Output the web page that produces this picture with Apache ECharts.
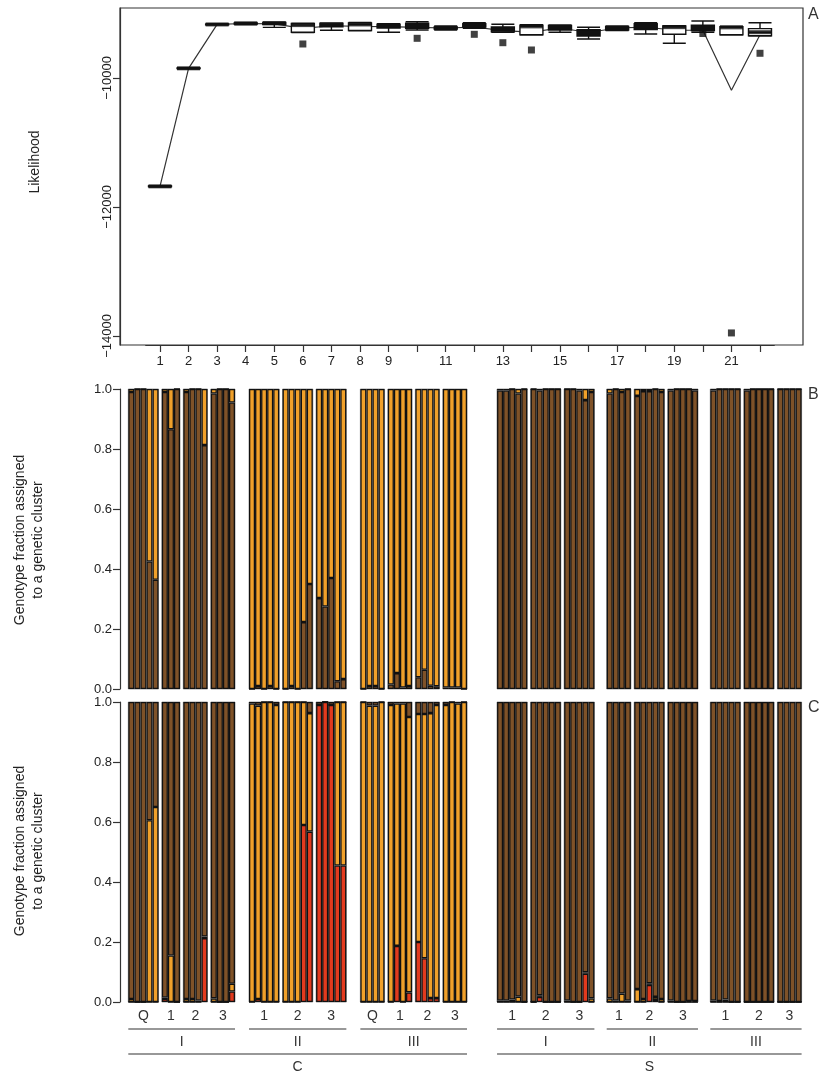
<!DOCTYPE html>
<html><head><meta charset="utf-8">
<script src="https://cdn.jsdelivr.net/npm/echarts@6/dist/echarts.min.js"></script>
<style>html,body{margin:0;padding:0;background:#fff}#c{width:820px;height:1074px}</style>
</head><body><div id="c"></div>
<script>
// ---------- Panel A data ----------
const kLabels = ['1','2','3','4','5','6','7','8','9','10','11','12','13','14','15','16','17','18','19','20','21','22'];
const kShown = ['1','2','3','4','5','6','7','8','9','11','13','15','17','19','21'];
const yTicksA = [-14000, -12000, -10000];
// [min, Q1, median, Q3, max]
const boxStats = [
  [-11690,-11685,-11680,-11675,-11670],
  [-9860,-9855,-9850,-9845,-9840],
  [-9180,-9175,-9170,-9165,-9160],
  [-9170,-9165,-9155,-9145,-9140],
  [-9215,-9170,-9150,-9140,-9135],
  [-9295,-9290,-9180,-9155,-9150],
  [-9260,-9205,-9175,-9150,-9145],
  [-9270,-9265,-9170,-9145,-9140],
  [-9292,-9225,-9190,-9165,-9160],
  [-9256,-9230,-9190,-9152,-9127],
  [-9255,-9240,-9225,-9210,-9195],
  [-9230,-9210,-9180,-9160,-9143],
  [-9292,-9285,-9240,-9210,-9168],
  [-9335,-9330,-9200,-9180,-9175],
  [-9290,-9255,-9215,-9185,-9178],
  [-9395,-9350,-9295,-9250,-9214],
  [-9266,-9255,-9225,-9200,-9194],
  [-9318,-9250,-9195,-9160,-9142],
  [-9462,-9322,-9212,-9195,-9190],
  [-9290,-9265,-9225,-9180,-9116],
  [-9333,-9330,-9215,-9205,-9200],
  [-9350,-9345,-9290,-9235,-9143]
];
const meanLik = [-11680,-9850,-9170,-9155,-9160,-9230,-9190,-9200,-9205,-9215,-9225,-9210,-9265,-9290,-9225,-9295,-9225,-9210,-9260,-9260,-10190,-9330];
const outliers = [[6,-9473],[10,-9385],[12,-9323],[13,-9453],[14,-9566],[20,-9310],[21,-13953],[22,-9617]];

// ---------- Panels B / C data ----------
const blockLabels = ['Q','1','2','3','1','2','3','Q','1','2','3','1','2','3','1','2','3','1','2','3'];
const blockGroup  = [0,0,0,0,1,1,1,2,2,2,2,3,3,3,4,4,4,5,5,5];
const groupLabels = ['I','II','III','I','II','III'];
const groupSite   = [0,0,0,1,1,1];
const siteLabels  = ['C','S'];

// K=2: brown fraction (orange = rest)
const brownK2 = [
  [0.99,1,1,0.425,0.364],
  [0.99,0.866,1],
  [0.99,1,1,0.813],
  [0.985,1,1,0.955],
  [0,0.01,0,0.01,0],
  [0,0.01,0,0.223,0.35],
  [0.303,0.275,0.37,0.026,0.033],
  [0,0.01,0.01,0],
  [0.015,0.053,0.005,0.01],
  [0.039,0.064,0.011,0.009],
  [0.005,0.005,0.005,0],
  [0.995,0.995,1,0.985,1],
  [1,0.995,1,1,1],
  [1,1,0.995,0.963,0.99],
  [0.985,1,0.99,1],
  [0.977,0.993,0.993,1,0.99],
  [0.995,1,1,1,0.995],
  [0.995,1,1,1,1],
  [0.995,1,1,1,1],
  [1,1,1,1]
];
// K=3: red and orange fractions (brown = rest)
const redK3 = [
  [0,0,0,0,0],
  [0.01,0,0],
  [0,0,0,0.213],
  [0,0,0,0.035],
  [0,0.01,0,0,0],
  [0,0,0,0.59,0.568],
  [0.99,1,0.99,0.455,0.455],
  [0,0,0,0],
  [0,0.187,0,0.032],
  [0.2,0.146,0.013,0.013],
  [0,0,0,0],
  [0,0,0,0,0],
  [0,0.017,0,0,0],
  [0,0,0,0.094,0],
  [0,0,0,0],
  [0,0,0.057,0.007,0],
  [0,0,0,0,0],
  [0,0,0,0,0],
  [0,0,0,0,0],
  [0,0,0,0]
];
const orangeK3 = [
  [0.01,0,0,0.606,0.65],
  [0.005,0.155,0],
  [0.01,0.01,0.005,0.005],
  [0.012,0,0,0.026],
  [0.995,0.978,1,1,0.99],
  [1,1,1,0.41,0.395],
  [0,0,0,0.545,0.545],
  [1,0.988,0.988,1],
  [0.99,0.808,0.995,0.918],
  [0.76,0.814,0.95,0.977],
  [0.99,1,0.995,1],
  [0.005,0.005,0.008,0.018,0],
  [0,0.005,0,0,0],
  [0.005,0,0,0.005,0.012],
  [0.012,0.005,0.028,0.005],
  [0.043,0.01,0.005,0.01,0.01],
  [0.005,0,0,0.003,0.003],
  [0.005,0.003,0.008,0,0],
  [0,0,0,0,0],
  [0,0,0,0]
];

// ---------- layout ----------
const FONT = "'Liberation Sans',Arial,sans-serif";
const TXT = '#222';
const BROWN = '#7f5228', ORANGE = '#f0a02a', RED = '#e23a1e';
const W = 6.05, G = 3.3, groupGap = [14, 12.3], siteGap = 30, startX = 128.3;
const panelTop = [389, 702], panelH = 300;

const blockX = [], blockW = [];
{
  let x = startX;
  for (let i = 0; i < blockLabels.length; i++) {
    if (i > 0) {
      const g0 = blockGroup[i-1], g1 = blockGroup[i];
      if (g0 !== g1) x += (groupSite[g0] !== groupSite[g1]) ? siteGap : groupGap[groupSite[g1]];
      else x += G;
    }
    blockX.push(x);
    blockW.push(brownK2[i].length * W);
    x += brownK2[i].length * W;
  }
}

const grids = [], xAxes = [], yAxes = [], series = [], graphics = [];

// Panel A frame grid
grids.push({left: 120, top: 8, width: 683, height: 337, show: true, borderColor: '#333', borderWidth: 1.2, backgroundColor: 'transparent'});
xAxes.push({gridIndex: 0, type: 'value', show: false});
yAxes.push({gridIndex: 0, type: 'value', show: false});
// Panel A data grid
const bandA = (760 - 160) / 21;
const leftA = 160 - bandA / 2;
grids.push({left: leftA, top: 8, width: bandA * 22, height: 337, show: false});
xAxes.push({
  gridIndex: 1, type: 'category', data: kLabels, boundaryGap: true,
  axisLine: {show: true, lineStyle: {color: '#333', width: 1.2}},
  axisTick: {show: true, alignWithLabel: true, interval: 0, length: 7, lineStyle: {color: '#333', width: 1.2}},
  axisLabel: {interval: (i, v) => kShown.includes(v), margin: 10, fontSize: 13, color: TXT, fontFamily: FONT}
});
yAxes.push({
  gridIndex: 1, type: 'value', min: -14140, max: -8915, offset: leftA - 120,
  splitLine: {show: false},
  axisLine: {show: true, lineStyle: {color: '#333', width: 1.2}},
  axisTick: {show: true, length: 7, customValues: yTicksA, lineStyle: {color: '#333', width: 1.2}},
  axisLabel: {customValues: yTicksA, rotate: 90, margin: 6, fontSize: 13, color: TXT, fontFamily: FONT,
    formatter: v => String(v).replace('-', '\u2212')}
});
series.push({type: 'line', xAxisIndex: 1, yAxisIndex: 1, data: meanLik, symbol: 'none', z: 2,
  lineStyle: {color: '#333', width: 1.2}, silent: true, animation: false});
// narrow boxes render as solid black (heavy median line fills them, as in the source figure)
series.push({type: 'boxplot', xAxisIndex: 1, yAxisIndex: 1, boxWidth: [23, 23], z: 3,
  data: boxStats.map(s => ({value: s, itemStyle: {color: (s[3] - s[1] < 110) ? '#111' : '#fff'}})),
  itemStyle: {borderColor: '#111', borderWidth: 1.4}, silent: true, animation: false});
series.push({type: 'scatter', xAxisIndex: 1, yAxisIndex: 1, data: boxStats.map((s, i) => [i, s[2]]),
  symbol: 'rect', symbolSize: [23, 4], z: 4, itemStyle: {color: '#111'}, silent: true, animation: false});
series.push({type: 'scatter', xAxisIndex: 1, yAxisIndex: 1, data: outliers.map(o => [o[0] - 1, o[1]]),
  symbol: 'rect', symbolSize: 7, z: 4, itemStyle: {color: '#111'}, silent: true, animation: false});

// Panels B & C
for (let p = 0; p < 2; p++) {
  for (let b = 0; b < blockLabels.length; b++) {
    const gi = grids.length;
    const n = brownK2[b].length;
    grids.push({left: blockX[b], top: panelTop[p], width: blockW[b], height: panelH, show: true, borderColor: '#9c9c9c', borderWidth: 1});
    xAxes.push({gridIndex: gi, type: 'category', data: Array.from({length: n}, (_, i) => String(i + 1)), show: false});
    const ya = {gridIndex: gi, type: 'value', min: 0, max: 1, show: b === 0, splitLine: {show: false}};
    if (b === 0) {
      Object.assign(ya, {
        interval: 0.2, offset: blockX[0] - 120,
        axisLine: {show: true, lineStyle: {color: '#333', width: 1.2}},
        axisTick: {show: true, length: 7, lineStyle: {color: '#333', width: 1.2}},
        axisLabel: {margin: 8, fontSize: 13, color: TXT, fontFamily: FONT, formatter: v => v.toFixed(1)}
      });
    }
    yAxes.push(ya);
    let layers;
    if (p === 0) {
      layers = [[BROWN, brownK2[b]], [ORANGE, brownK2[b].map(v => +(1 - v).toFixed(4))]];
    } else {
      const br = redK3[b].map((r, i) => +(1 - r - orangeK3[b][i]).toFixed(4));
      layers = [[RED, redK3[b]], [ORANGE, orangeK3[b]], [BROWN, br]];
    }
    layers.forEach(([col, vals]) => {
      series.push({
        type: 'bar', xAxisIndex: gi, yAxisIndex: gi, stack: 'p' + p + 'b' + b, data: vals,
        barCategoryGap: '0%', itemStyle: {color: col, borderColor: '#111', borderWidth: 1.3},
        silent: true, animation: false
      });
    });
  }
}

// ---------- text & annotation ----------
graphics.push({type: 'text', x: 35, y: 162, rotation: Math.PI / 2,
  style: {text: 'Likelihood', align: 'center', verticalAlign: 'middle', fontSize: 14, fontFamily: FONT, fill: TXT}});
[['A', 15], ['B', 395], ['C', 708]].forEach(([t, y]) => graphics.push({type: 'text', x: 808, y: y, style: {text: t, align: 'left', verticalAlign: 'middle', fontSize: 16, fontFamily: FONT, fill: '#333'}}));
[540, 851].forEach(cy => graphics.push({type: 'text', x: 29, y: cy, rotation: Math.PI / 2,
  style: {text: 'Genotype fraction assigned\nto a genetic cluster', align: 'center', verticalAlign: 'middle', fontSize: 14, lineHeight: 18, fontFamily: FONT, fill: TXT}}));

blockLabels.forEach((t, b) => graphics.push({type: 'text', x: blockX[b] + blockW[b] / 2, y: 1016,
  style: {text: t, align: 'center', verticalAlign: 'middle', fontSize: 14, fontFamily: FONT, fill: '#333'}}));
function spanOf(pred) {
  let a = Infinity, z = -Infinity;
  blockLabels.forEach((_, b) => { if (pred(b)) { a = Math.min(a, blockX[b]); z = Math.max(z, blockX[b] + blockW[b]); } });
  return [a, z];
}
groupLabels.forEach((t, g) => {
  const [a, z] = spanOf(b => blockGroup[b] === g);
  graphics.push({type: 'line', shape: {x1: a, y1: 1029, x2: z, y2: 1029}, style: {stroke: '#333', lineWidth: 1.2}});
  graphics.push({type: 'text', x: (a + z) / 2, y: 1042, style: {text: t, align: 'center', verticalAlign: 'middle', fontSize: 14, fontFamily: FONT, fill: '#333'}});
});
siteLabels.forEach((t, s) => {
  const [a, z] = spanOf(b => groupSite[blockGroup[b]] === s);
  graphics.push({type: 'line', shape: {x1: a, y1: 1054, x2: z, y2: 1054}, style: {stroke: '#333', lineWidth: 1.2}});
  graphics.push({type: 'text', x: (a + z) / 2, y: 1067, style: {text: t, align: 'center', verticalAlign: 'middle', fontSize: 14, fontFamily: FONT, fill: '#333'}});
});

const chart = echarts.init(document.getElementById('c'), null, {renderer: 'canvas'});
chart.setOption({
  animation: false,
  backgroundColor: '#fff',
  grid: grids, xAxis: xAxes, yAxis: yAxes, series: series, graphic: graphics
});
</script></body></html>
